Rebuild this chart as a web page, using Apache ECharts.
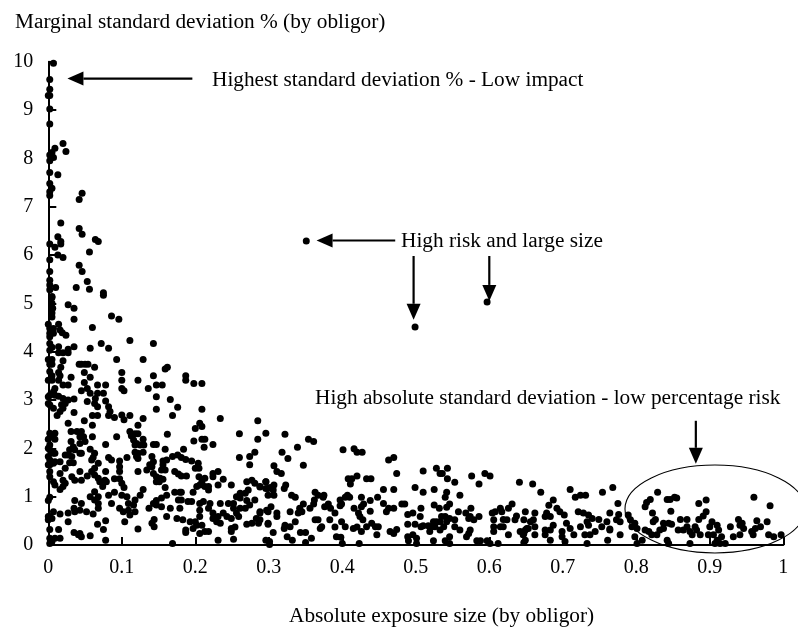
<!DOCTYPE html>
<html><head><meta charset="utf-8">
<script src="https://cdn.jsdelivr.net/npm/echarts@6/dist/echarts.min.js"></script>
<style>html,body{margin:0;padding:0;background:#fff}#c{width:798px;height:627px}</style>
</head><body><div id="c"></div>
<script>
var xTicks = [0,0.1,0.2,0.3,0.4,0.5,0.6,0.7,0.8,0.9,1];
var yTitle = "Marginal standard deviation % (by obligor)";
var xTitle = "Absolute exposure size (by obligor)";
var outliers = [[.351,6.29],[.499,4.51],[.597,5.03]];
var pointsUpper = [[.007,9.97],[.002,9.63],[.002,9.43],[0,9.3],[.002,9.3],[.002,9.02],[.002,8.71],[.02,8.31],[.024,8.14],[.009,8.21],[.005,8.12],[.002,8.07],[.007,8.02],[.002,7.95],[.002,7.71],[.013,7.66],[.002,7.48],[.005,7.38],[.002,7.31],[.002,7.23],[.046,7.28],[.042,7.15],[.017,6.66],[.042,6.55],[.046,6.43],[.013,6.38],[.064,6.32],[.068,6.28],[.017,6.28],[.017,6.23],[.002,6.23],[.009,6.16],[.056,6.06],[.013,6],[.02,5.95],[.002,5.9],[.042,5.79],[.046,5.66],[.002,5.66],[.053,5.45],[.002,5.48],[.002,5.38],[.01,5.33],[.038,5.33],[.056,5.29],[.002,5.28],[.075,5.22],[.075,5.17],[.005,5.14],[.005,5.12],[.005,5],[.006,4.9],[.005,4.8],[.005,4.72],[.027,4.97],[.035,4.9],[.035,4.67],[.086,4.74],[.096,4.67],[.06,4.5],[0,4.57],[.014,4.57],[.002,4.48],[.007,4.48],[.016,4.45],[.019,4.39],[.024,4.34],[.002,4.38],[.007,4.38],[.002,4.31],[.072,4.17],[.111,4.23],[.143,4.17],[.002,4.17],[.002,4.03],[.005,4.09],[.014,4.1],[.035,4.1],[.027,4.05],[.057,4.07],[.082,4.07],[.014,3.98],[.02,3.98],[.027,3.98]];
var pointsMiddle = [[0,3.84],[.005,3.84],[.005,3.74],[.002,3.74],[.02,3.81],[.093,3.84],[.129,3.84],[.042,3.74],[.045,3.74],[.05,3.74],[.054,3.74],[.063,3.68],[.017,3.68],[.014,3.57],[.049,3.57],[.1,3.57],[.002,3.59],[.005,3.5],[.159,3.64],[.162,3.68],[.187,3.5],[.143,3.5],[.057,3.47],[.031,3.47],[.016,3.5],[0,3.41],[.005,3.41],[.014,3.41],[.1,3.41],[.122,3.41],[.187,3.41],[.049,3.36],[.198,3.34],[.209,3.34],[.02,3.31],[.027,3.31],[.067,3.31],[.078,3.31],[.136,3.24],[.147,3.31],[.155,3.31],[.1,3.24],[.053,3.24],[.045,3.19],[.103,3.19],[.009,3.24],[.007,3.17],[.002,3.1],[0,3.07],[.009,3.1],[.014,3.08],[.02,3.03],[.027,3],[.035,3.02],[.057,3.14],[.067,3.14],[.075,3.14],[.147,3.07],[.166,3.01],[.053,2.97],[.064,3.03],[.063,2.93],[.078,2.98],[0,2.93],[.002,2.9],[.007,2.83],[.018,2.9],[.023,2.93],[.02,2.83],[.067,2.86],[.082,2.86],[.176,2.85],[.147,2.81],[.209,2.81],[.035,2.74],[.016,2.76],[.012,2.68],[.084,2.76],[.06,2.68],[.067,2.68],[.082,2.68],[.09,2.64],[.1,2.69],[.111,2.68],[.103,2.59],[.169,2.68],[.129,2.62],[.234,2.62],[.285,2.57],[.049,2.57],[.027,2.52],[.06,2.48],[.122,2.48],[.2,2.41],[.206,2.52],[.209,2.45],[.031,2.35],[.039,2.35],[.045,2.35],[.296,2.31],[.26,2.3],[.322,2.29],[.354,2.19],[.361,2.14],[.339,2.02],[.318,1.92],[.326,1.79],[.307,1.64],[.347,1.65],[.311,1.52],[.317,1.48],[.401,1.97],[.416,1.99],[.42,1.92],[.427,1.92],[.463,1.76],[.47,1.81],[.474,1.48],[.51,1.53],[.528,1.59],[.543,1.59],[.533,1.48],[.536,1.48],[.543,1.37],[.553,1.3],[.576,1.43],[.594,1.48],[.601,1.43],[.586,1.26],[.641,1.3],[.42,1.43],[.408,1.37],[.413,1.37],[.411,1.26],[.433,1.37],[.439,1.37]];
var pointsLeftLow = [[0,2.19],[.002,2.31],[.009,2.31],[.005,2.24],[.009,2.19],[.002,2.07],[0,2],[.002,1.97],[.007,1.9],[0,1.83],[.009,1.9],[.002,1.76],[.007,1.69],[0,1.66],[.002,1.66],[.009,1.72],[.016,1.72],[.043,2.24],[.048,2.24],[.031,2.14],[.034,2.03],[.029,1.97],[.036,1.97],[.023,1.86],[.027,1.86],[.043,1.9],[.045,1.9],[.032,1.83],[.029,1.7],[.034,1.7],[.043,2.1],[.05,2.14],[.06,2.24],[.057,1.98],[.063,1.9],[.061,1.81],[.059,1.76],[.078,2.08],[.093,2.24],[.111,2.35],[.113,2.26],[.118,2.3],[.122,2.3],[.116,2.17],[.12,2.1],[.125,2.07],[.129,2.19],[.13,2.07],[.118,2.07],[.143,2.08],[.147,2.08],[.162,2.29],[.159,1.98],[.198,2.15],[.209,2.19],[.213,2.19],[.212,2.02],[.224,2.08],[.184,1.98],[.176,1.86],[.181,1.81],[.187,1.77],[.195,1.74],[.169,1.83],[.26,1.81],[.274,1.83],[.281,1.92],[.274,1.66],[.285,2.19],[.082,1.81],[.086,1.76],[.097,1.74],[.107,1.81],[.118,1.92],[.122,1.9],[.122,1.79],[.129,1.92],[.12,1.83],[.141,1.83],[.143,1.72],[.138,1.66],[.134,1.55],[.141,1.62],[.156,1.74],[.161,1.76],[.156,1.66],[.154,1.55],[.159,1.55],[.122,1.52],[.097,1.62],[.097,1.52],[.078,1.52],[.204,1.69],[.2,1.59],[.205,1.59],[.172,1.52],[.177,1.47],[.181,1.43],[.188,1.43],[.143,1.48],[.147,1.41],[.152,1.38],[.147,1.31],[.156,1.36],[.151,1.31],[.002,1.52],[.002,1.41],[.007,1.31],[.009,1.24],[.016,1.48],[.023,1.59],[.043,1.52],[.053,1.43],[.045,1.34],[.032,1.41],[.036,1.34],[.02,1.34],[.023,1.28],[.016,1.15],[.02,1.21],[.068,1.69],[.063,1.59],[.059,1.52],[.063,1.45],[.068,1.38],[.07,1.31],[.077,1.34],[.074,1.21],[.079,1.31],[.09,1.37],[.097,1.37],[.1,1.28],[.103,1.19],[.172,1.09],[.179,1.09],[.181,1.09],[.159,1.19],[.129,1.15],[.125,1.03],[.205,1.41],[.209,1.31],[.206,1.24],[.202,1.21],[.213,1.38],[.213,1.21],[.218,1.21],[.224,1.48],[.231,1.52],[.224,1.41],[.218,1.14],[.231,1.24],[.238,1.36],[.249,1.24],[.197,1.09],[.27,1.31],[.277,1.34],[.281,1.28],[.288,1.21],[.296,1.31],[.299,1.17],[.272,1.14],[.268,1.07],[.261,1.07],[.256,1],[.252,.86],[.057,1],[.063,1.1],[.068,1],[.063,.93],[.068,.86],[.068,.76],[.036,.92],[.045,.86],[.035,.76],[.043,.72],[.052,.69],[.061,.64],[.082,1.03],[.09,1.09],[.086,.86],[.097,.76],[.102,.69],[.109,.72],[.111,.62],[.118,.69],[.104,.48],[.1,1.03],[.107,1],[.109,.86],[.118,.93],[.116,.83],[.137,.76],[.143,.86],[.147,.92],[.154,.97],[.147,.83],[.154,.79],[.161,1.03],[.166,.76],[.161,.59],[.177,.93],[.181,.93],[.179,.76],[.175,.55],[.183,.52],[.193,.48],[.19,.9],[.195,.9],[.2,.48],[.197,.34],[.202,.41],[.206,.86],[.211,.9],[.22,.86],[.218,.76],[.206,.72],[.206,.59],[.144,.53],[.141,.45],[.144,.38],[.122,.33],[.187,.31],[.187,.26],[.206,.24],[.213,.28],[.218,.28],[.209,.41],[.231,.1],[.224,.66],[.234,.86],[.245,.86],[.231,.59],[.224,.55],[.229,.48],[.234,.45],[.238,.66],[.243,.59],[.249,.55],[.252,.76],[.261,.76],[.268,.76],[.256,.66],[.259,.59],[.261,.97],[.27,.92],[.281,.93],[.274,.83],[.288,.69],[.283,.55],[.277,.45],[.27,.43],[.249,.34],[.254,.37],[.249,.28],[.252,.12],[.286,.45],[.297,.72],[.299,.45],[.296,.1],[0,.92],[.002,.99],[0,.59],[.002,.59],[.007,.69],[0,.52],[.005,.55],[.016,.64],[.027,.66],[.027,.48],[.036,.69],[.035,.26],[.043,.24],[.041,.21],[.045,.17],[.057,.19],[.067,.43],[.075,.32],[.078,.5],[.078,.1],[.002,.32],[.014,.32],[.002,.14],[.009,.14],[.016,.14],[.005,.07],[.002,.03],[.169,.03]];
var pointsCentreLow = [[.296,1.31],[.288,1.2],[.296,1.17],[.302,1.19],[.307,1.24],[.306,1.14],[.323,1.24],[.321,1.17],[.299,1.03],[.307,1.03],[.456,1.15],[.47,1.15],[.499,1.19],[.525,1.15],[.51,1.09],[.542,1.09],[.54,.99],[.56,1.03],[.363,1.09],[.367,1.03],[.375,1.03],[.374,.99],[.331,1.03],[.336,.99],[.407,1.03],[.404,.99],[.41,.99],[.397,.93],[.426,.99],[.448,.99],[.438,.92],[.429,.85],[.456,.86],[.481,.85],[.485,.85],[.362,.93],[.361,.85],[.347,.85],[.399,.85],[.397,.81],[.381,.85],[.376,.79],[.384,.76],[.303,.79],[.299,.69],[.311,.66],[.311,.59],[.342,.76],[.356,.76],[.329,.69],[.345,.69],[.34,.66],[.336,.48],[.416,.76],[.426,.79],[.438,.7],[.422,.66],[.424,.59],[.428,.52],[.46,.69],[.463,.76],[.47,.76],[.507,.76],[.506,.59],[.525,.83],[.532,.76],[.546,.85],[.542,.78],[.558,.69],[.568,.66],[.489,.63],[.496,.66],[.575,.76],[.574,.59],[.586,.59],[.572,.55],[.579,.52],[.604,.66],[.608,.69],[.615,.76],[.617,.69],[.606,.52],[.631,.85],[.626,.76],[.637,.6],[.635,.52],[.649,.69],[.619,.53],[.624,.52],[.288,.66],[.288,.52],[.383,.52],[.39,.66],[.363,.52],[.367,.52],[.37,.34],[.372,.38],[.399,.48],[.404,.38],[.415,.34],[.42,.37],[.426,.28],[.433,.38],[.44,.45],[.445,.38],[.449,.38],[.447,.21],[.299,.43],[.322,.41],[.329,.38],[.321,.34],[.39,.37],[.306,.26],[.343,.26],[.35,.26],[.325,.17],[.332,.1],[.358,.14],[.35,.05],[.301,.07],[.301,.01],[.392,.17],[.398,.16],[.4,.03],[.423,.03],[.47,.24],[.474,.32],[.465,.28],[.489,.43],[.499,.43],[.51,.4],[.507,.38],[.517,.4],[.519,.28],[.524,.48],[.528,.48],[.535,.59],[.54,.59],[.533,.48],[.538,.38],[.526,.38],[.542,.48],[.533,.31],[.522,.38],[.553,.52],[.546,.55],[.553,.38],[.56,.31],[.489,.17],[.49,.09],[.496,.21],[.501,.14],[.501,.03],[.524,.09],[.54,.09],[.546,.17],[.546,.03],[.569,.17],[.574,.31],[.572,.24],[.583,.09],[.588,.09],[.597,.09],[.601,.03],[.612,.03],[.606,.38],[.606,.28],[.615,.38],[.619,.38],[.626,.21],[.642,.28],[.646,.21],[.649,.1],[.649,.31],[.653,.34]];
var pointsRight = [[.659,1.26],[.67,1.09],[.71,1.15],[.717,.99],[.724,1.03],[.731,1.03],[.754,1.09],[.768,1.19],[.775,.86],[.687,.93],[.681,.82],[.692,.76],[.696,.69],[.702,.62],[.678,.66],[.676,.59],[.683,.59],[.662,.66],[.66,.52],[.656,.48],[.647,.52],[.721,.69],[.728,.66],[.735,.62],[.74,.55],[.733,.48],[.749,.53],[.735,.41],[.724,.38],[.764,.66],[.776,.63],[.76,.48],[.773,.52],[.778,.48],[.789,.62],[.792,.52],[.753,.38],[.764,.33],[.687,.41],[.683,.31],[.676,.31],[.662,.38],[.651,.34],[.647,.24],[.662,.21],[.676,.21],[.683,.1],[.699,.28],[.699,.17],[.703,.07],[.705,.45],[.71,.34],[.715,.21],[.73,.21],[.737,.21],[.744,.28],[.733,.03],[.761,.1],[.778,.21],[.764,.31],[.647,.05],[.798,.45],[.801,.34],[.794,.38],[.798,.17],[.801,.03],[.808,.1],[.812,.31],[.817,.28],[.821,.21],[.828,.21],[.812,.79],[.814,.88],[.819,.94],[.829,1.09],[.842,.94],[.846,.94],[.852,.99],[.855,.97],[.822,.66],[.826,.53],[.823,.48],[.847,.7],[.837,.45],[.844,.45],[.848,.43],[.837,.34],[.832,.31],[.842,.1],[.844,.03],[.86,.53],[.869,.53],[.857,.31],[.864,.31],[.869,.38],[.873,.28],[.876,.21],[.873,.03],[.885,.86],[.895,.93],[.895,.69],[.891,.6],[.885,.53],[.88,.38],[.882,.31],[.887,.21],[.903,.48],[.91,.41],[.9,.38],[.912,.31],[.898,.21],[.905,.21],[.916,.17],[.907,.03],[.914,.03],[.921,.03],[.91,.1],[.928,.38],[.939,.53],[.941,.41],[.944,.45],[.946,.34],[.932,.17],[.941,.21],[.96,.99],[.982,.81],[.964,.5],[.978,.48],[.969,.38],[.962,.34],[.957,.28],[.959,.21],[.98,.21],[.987,.17],[.997,.21]];
var points = [].concat(outliers, pointsUpper, pointsMiddle, pointsLeftLow, pointsCentreLow, pointsRight);
var arrows = [[.196,9.65,.026,9.65],[.472,6.3,.365,6.3],[.497,5.98,.497,4.66],[.6,5.98,.6,5.05],[.881,2.57,.881,1.68]];
var ellipse = {cx:.907, cy:.745, rx:.1224, ry:.91};
var notes = [
 {t:"Highest standard deviation % - Low impact", x:212, y:82},
 {t:"High risk and large size", x:401, y:243},
 {t:"High absolute standard deviation - low percentage risk", x:315, y:400},
 {t:yTitle, x:15, y:24},
 {t:xTitle, x:289, y:618}
];
var F = "'Liberation Serif','Times New Roman',serif";
var chart = echarts.init(document.getElementById('c'), null, {renderer:'canvas'});
chart.setOption({
 animation:false,
 backgroundColor:'#fff',
 grid:{left:48.3, right:14.7, top:61.7, bottom:82},
 xAxis:{type:'value',min:0,max:1,interval:0.1,splitLine:{show:false},
  axisLine:{lineStyle:{color:'#000',width:2},onZero:false},
  axisTick:{inside:true,length:8,lineStyle:{color:'#000',width:2}},
  axisLabel:{color:'#000',fontFamily:F,fontSize:20,margin:13,showMinLabel:true,showMaxLabel:true,
   formatter:function(v){return String(Math.round(v*10)/10);}}},
 yAxis:{type:'value',min:0,max:10,interval:1,splitLine:{show:false},
  axisLine:{show:true,lineStyle:{color:'#000',width:2},onZero:false},
  axisTick:{show:true,inside:true,length:8,lineStyle:{color:'#000',width:2}},
  axisLabel:{color:'#000',fontFamily:F,fontSize:20,margin:15,padding:[0,0,5,0],showMinLabel:true,showMaxLabel:true}},
 graphic:notes.map(function(n){return {type:'text',left:n.x,top:n.y-12,z:50,style:{text:n.t,fill:'#000',font:'21.3px '+F}};}),
 series:[
  {type:'scatter',data:points,symbol:'circle',symbolSize:7,clip:false,itemStyle:{color:'#000',opacity:1},z:3,silent:true},
  {type:'custom',coordinateSystem:'cartesian2d',clip:false,silent:true,z:4,data:arrows,encode:{x:[0,2],y:[1,3]},
   renderItem:function(p,api){
    var a=api.coord([api.value(0),api.value(1)]), b=api.coord([api.value(2),api.value(3)]);
    var dx=b[0]-a[0],dy=b[1]-a[1],L=Math.sqrt(dx*dx+dy*dy);dx/=L;dy/=L;
    var hl=16,hw=7, bx=b[0]-dx*hl, by=b[1]-dy*hl;
    return {type:'group',children:[
     {type:'line',shape:{x1:a[0],y1:a[1],x2:bx,y2:by},style:{stroke:'#000',lineWidth:2.2}},
     {type:'polygon',shape:{points:[[b[0],b[1]],[bx-dy*hw,by+dx*hw],[bx+dy*hw,by-dx*hw]]},style:{fill:'#000'}}
    ]};
   }},
  {type:'custom',coordinateSystem:'cartesian2d',clip:false,silent:true,z:4,data:[[ellipse.cx,ellipse.cy,ellipse.rx,ellipse.ry]],encode:{x:0,y:1},
   renderItem:function(p,api){
    var c=api.coord([api.value(0),api.value(1)]), e=api.coord([api.value(0)+api.value(2),api.value(1)+api.value(3)]);
    return {type:'ellipse',shape:{cx:c[0],cy:c[1],rx:e[0]-c[0],ry:c[1]-e[1]},style:{fill:null,stroke:'#000',lineWidth:1.1}};
   }}
 ]
});
</script></body></html>
